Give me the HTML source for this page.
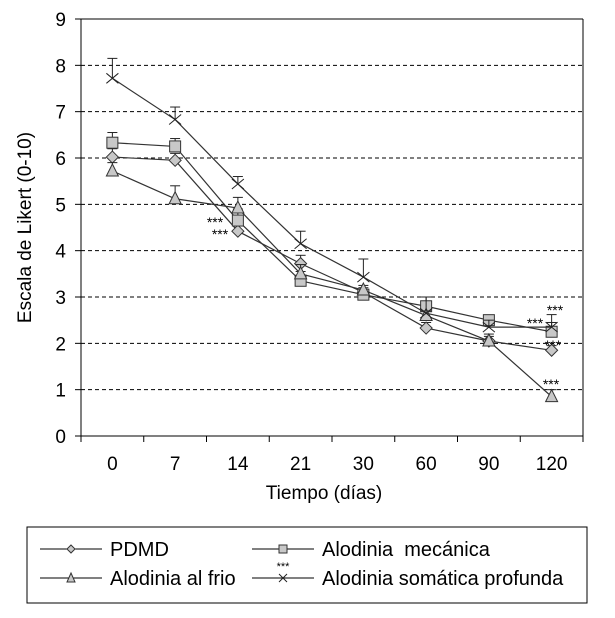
<!DOCTYPE html>
<html><head><meta charset="utf-8"><style>
body{margin:0;background:#fff;width:615px;height:613px;overflow:hidden}
svg{font-family:"Liberation Sans",Arial,sans-serif}
</style></head><body>
<svg id="chart" width="615" height="613" viewBox="0 0 615 613" xmlns="http://www.w3.org/2000/svg"></svg>
<script>
const categories=["0","7","14","21","30","60","90","120"];
const yTicks=[0,1,2,3,4,5,6,7,8,9];
const pdmd=[6.02,5.95,4.42,3.72,3.1,2.33,2.05,1.85];
const pdmdErr=[6.2,6.1,4.6,3.9,3.2,2.45,2.15,1.95];
const mecanica=[6.33,6.25,4.65,3.35,3.05,2.8,2.5,2.25];
const mecanicaErr=[6.55,6.42,4.9,3.55,3.15,3.0,2.6,2.45];
const frio=[5.72,5.12,4.92,3.5,3.15,2.6,2.05,0.85];
const frioErr=[5.9,5.4,5.15,3.7,3.25,2.7,2.2,1.0];
const somatica=[7.72,6.83,5.44,4.15,3.43,2.65,2.35,2.35];
const somaticaErr=[8.15,7.1,5.6,4.42,3.82,3.0,2.5,2.62];
const NS="http://www.w3.org/2000/svg";
const svg=document.getElementById('chart');
const L=81,R=583,T=19,B=436;
const band=(R-L)/categories.length;
const x=i=>L+band*(i+0.5);
const y=v=>B-(B-T)*v/9;
function el(tag,attrs,parent){const e=document.createElementNS(NS,tag);for(const k in attrs)e.setAttribute(k,attrs[k]);(parent||svg).appendChild(e);return e;}
yTicks.forEach(t=>{
 if(t>0&&t<9){const g=el('line',{x1:L,x2:R,y1:y(t),y2:y(t),stroke:'#000','stroke-dasharray':'4,3','stroke-width':1});
 
 }
 const tk=el('line',{x1:L-6,x2:L,y1:y(t),y2:y(t),stroke:'#000'});
 
 
 const lb=el('text',{x:L-15,y:y(t)+7,'text-anchor':'end','font-size':19});
 lb.textContent=t;
 
 
});
const topBorder=el('line',{x1:L,x2:R,y1:T,y2:T,stroke:'#000'});


const rb=el('line',{x1:R,x2:R,y1:T,y2:B+6,stroke:'#000'});


const ya=el('line',{x1:L,x2:L,y1:T,y2:B,stroke:'#000'});


const xa=el('line',{x1:L,x2:R,y1:B,y2:B,stroke:'#000'});


categories.forEach((c,i)=>{
 const tk=el('line',{x1:L+band*i,x2:L+band*i,y1:B,y2:B+6,stroke:'#000'});
 
 
 const lb=el('text',{x:x(i),y:B+34,'text-anchor':'middle','font-size':19});
 lb.textContent=c;
 
 
});
const xt=el('text',{x:(L+R)/2-8,y:499,'text-anchor':'middle','font-size':19});
xt.textContent='Tiempo (días)';


const yt=el('text',{x:0,y:0,'text-anchor':'middle','font-size':19,transform:`translate(31,${(T+B)/2}) rotate(-90)`});
yt.textContent='Escala de Likert (0-10)';


function drawMarker(kind,cx,cy,g){
 if(kind==='diamond')el('polygon',{points:`${cx},${cy-6} ${cx+6},${cy} ${cx},${cy+6} ${cx-6},${cy}`,fill:'#c8c8c8',stroke:'#333'},g);
 else if(kind==='square')el('rect',{x:cx-5.5,y:cy-5.5,width:11,height:11,fill:'#c8c8c8',stroke:'#333'},g);
 else if(kind==='triangle')el('polygon',{points:`${cx},${cy-7} ${cx+6},${cy+5} ${cx-6},${cy+5}`,fill:'#c8c8c8',stroke:'#333'},g);
 else{el('line',{x1:cx-6,y1:cy-5,x2:cx+6,y2:cy+5,stroke:'#222'},g);el('line',{x1:cx-6,y1:cy+5,x2:cx+6,y2:cy-5,stroke:'#222'},g);}
}
const series=[['pdmd',pdmd,pdmdErr,'diamond'],['mecanica',mecanica,mecanicaErr,'square'],['frio',frio,frioErr,'triangle'],['somatica',somatica,somaticaErr,'cross']];
series.forEach(([name,vals,errs,kind])=>{
 const g=el('g',{});
 
 
 errs.forEach((e,i)=>{el('line',{x1:x(i),x2:x(i),y1:y(vals[i]),y2:y(e),stroke:'#222'},g);el('line',{x1:x(i)-5,x2:x(i)+5,y1:y(e),y2:y(e),stroke:'#222'},g);});
 el('polyline',{points:vals.map((v,i)=>x(i)+','+y(v)).join(' '),fill:'none',stroke:'#333','stroke-width':1.2},g);
 vals.forEach((v,i)=>drawMarker(kind,x(i),y(v),g));
});
[[215,227],[220,239],[535,328],[555,315],[553,350],[551,389]].forEach(([sx,sy])=>{
 const s=el('text',{x:sx,y:sy,'font-size':14,'text-anchor':'middle'});s.textContent='***';
 
 
});
const lg=el('g',{});


el('rect',{x:27,y:527,width:560,height:76,fill:'#fff',stroke:'#000'},lg);
const entries=[['PDMD','diamond',40,549],['Alodinia\u00a0 mecánica','square',252,549],['Alodinia al frio','triangle',40,578],['Alodinia somática profunda','cross',252,578]];
entries.forEach(([t,k,ex,ey])=>{
 const g=el('g',{},lg);
 
 
 el('line',{x1:ex,x2:ex+62,y1:ey,y2:ey,stroke:'#000'},g);
 if(k==='cross'){el('line',{x1:ex+27,y1:ey-4,x2:ex+35,y2:ey+4,stroke:'#222'},g);el('line',{x1:ex+27,y1:ey+4,x2:ex+35,y2:ey-4,stroke:'#222'},g);
  const s=el('text',{x:ex+31,y:ey-8,'font-size':11,'text-anchor':'middle'},g);s.textContent='***';}
 else{const cx=ex+31;
  if(k==='diamond')el('polygon',{points:`${cx},${ey-4} ${cx+4},${ey} ${cx},${ey+4} ${cx-4},${ey}`,fill:'#c8c8c8',stroke:'#333'},g);
  else if(k==='square')el('rect',{x:cx-4,y:ey-4,width:8,height:8,fill:'#c8c8c8',stroke:'#333'},g);
  else el('polygon',{points:`${cx},${ey-5} ${cx+4},${ey+4} ${cx-4},${ey+4}`,fill:'#c8c8c8',stroke:'#333'},g);}
 const tx=el('text',{x:ex+70,y:ey+7,'font-size':20},g);tx.textContent=t;
});
</script>
</body></html>
